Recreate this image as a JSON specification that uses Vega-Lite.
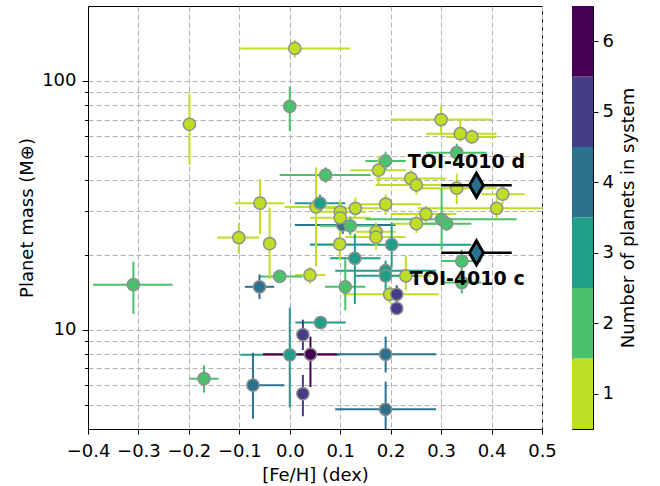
{
  "$schema": "https://vega.github.io/schema/vega-lite/v6.json",
  "autosize": {"type": "pad"},
  "padding": {"left": 18, "top": 5, "right": 4, "bottom": 2},
  "background": "white",
  "bounds": "flush",
  "spacing": 30,
  "datasets": {
    "planets": [
      {"feh": 0.105, "feh_lo": 0.01, "feh_hi": 0.21, "mass": 26.4, "mass_lo": 24.3, "mass_hi": 30, "n": 4},
      {"feh": 0.01, "feh_lo": -0.098, "feh_hi": 0.119, "mass": 135, "mass_lo": 124, "mass_hi": 146, "n": 1},
      {"feh": -0.199, "feh_lo": -0.202, "feh_hi": -0.196, "mass": 67, "mass_lo": 46, "mass_hi": 89, "n": 1},
      {"feh": 0.30, "feh_lo": 0.20, "feh_hi": 0.40, "mass": 70, "mass_lo": 61, "mass_hi": 79, "n": 1},
      {"feh": 0.338, "feh_lo": 0.27, "feh_hi": 0.41, "mass": 61.4, "mass_lo": 57, "mass_hi": 70, "n": 1},
      {"feh": 0.361, "feh_lo": 0.31, "feh_hi": 0.41, "mass": 59.6, "mass_lo": 56, "mass_hi": 64, "n": 1},
      {"feh": 0.176, "feh_lo": 0.12, "feh_hi": 0.23, "mass": 43.8, "mass_lo": 38, "mass_hi": 50, "n": 1},
      {"feh": 0.24, "feh_lo": 0.17, "feh_hi": 0.31, "mass": 40.6, "mass_lo": 37, "mass_hi": 44, "n": 1},
      {"feh": 0.251, "feh_lo": 0.17, "feh_hi": 0.33, "mass": 38.2, "mass_lo": 35, "mass_hi": 41, "n": 1},
      {"feh": 0.331, "feh_lo": 0.26, "feh_hi": 0.41, "mass": 37.1, "mass_lo": 32, "mass_hi": 42.4, "n": 1},
      {"feh": 0.422, "feh_lo": 0.38, "feh_hi": 0.466, "mass": 35.1, "mass_lo": 32, "mass_hi": 38, "n": 1},
      {"feh": 0.41, "feh_lo": 0.254, "feh_hi": 0.566, "mass": 30.8, "mass_lo": 28, "mass_hi": 34, "n": 1},
      {"feh": 0.052, "feh_lo": -0.01, "feh_hi": 0.11, "mass": 31.2, "mass_lo": 18, "mass_hi": 45, "n": 1},
      {"feh": 0.13, "feh_lo": 0.07, "feh_hi": 0.19, "mass": 30.8, "mass_lo": 28, "mass_hi": 34, "n": 1},
      {"feh": 0.19, "feh_lo": 0.13, "feh_hi": 0.26, "mass": 32.0, "mass_lo": 29, "mass_hi": 35, "n": 1},
      {"feh": 0.10, "feh_lo": 0.05, "feh_hi": 0.15, "mass": 29.8, "mass_lo": 27, "mass_hi": 33, "n": 1},
      {"feh": 0.10, "feh_lo": 0.04, "feh_hi": 0.16, "mass": 28.2, "mass_lo": 25, "mass_hi": 31, "n": 1},
      {"feh": 0.171, "feh_lo": 0.13, "feh_hi": 0.21, "mass": 24.8, "mass_lo": 22.5, "mass_hi": 27, "n": 1},
      {"feh": 0.171, "feh_lo": 0.11, "feh_hi": 0.23, "mass": 23.6, "mass_lo": 21, "mass_hi": 26, "n": 1},
      {"feh": 0.27, "feh_lo": 0.20, "feh_hi": 0.33, "mass": 29.2, "mass_lo": 27, "mass_hi": 31.5, "n": 1},
      {"feh": 0.251, "feh_lo": 0.20, "feh_hi": 0.30, "mass": 26.7, "mass_lo": 24.5, "mass_hi": 29, "n": 1},
      {"feh": 0.099, "feh_lo": 0.04, "feh_hi": 0.16, "mass": 22.1, "mass_lo": 19, "mass_hi": 25, "n": 1},
      {"feh": 0.23, "feh_lo": 0.18, "feh_hi": 0.28, "mass": 16.5, "mass_lo": 14.4, "mass_hi": 19.8, "n": 1},
      {"feh": 0.198, "feh_lo": 0.105, "feh_hi": 0.295, "mass": 13.9, "mass_lo": 12.8, "mass_hi": 15, "n": 1},
      {"feh": 0.04, "feh_lo": 0.01, "feh_hi": 0.07, "mass": 16.6, "mass_lo": 15.3, "mass_hi": 17.9, "n": 1},
      {"feh": -0.04, "feh_lo": -0.045, "feh_hi": -0.035, "mass": 22.2, "mass_lo": 16, "mass_hi": 31, "n": 1},
      {"feh": -0.101, "feh_lo": -0.144, "feh_hi": -0.06, "mass": 23.5, "mass_lo": 20.2, "mass_hi": 26.8, "n": 1},
      {"feh": -0.059, "feh_lo": -0.109, "feh_hi": -0.011, "mass": 32.3, "mass_lo": 24.3, "mass_hi": 40.3, "n": 1},
      {"feh": 0.00, "feh_lo": -0.005, "feh_hi": 0.005, "mass": 79, "mass_lo": 63, "mass_hi": 95, "n": 2},
      {"feh": 0.331, "feh_lo": 0.27, "feh_hi": 0.39, "mass": 51.5, "mass_lo": 47, "mass_hi": 56, "n": 2},
      {"feh": 0.19, "feh_lo": 0.15, "feh_hi": 0.23, "mass": 47.7, "mass_lo": 44, "mass_hi": 52, "n": 2},
      {"feh": 0.071, "feh_lo": -0.02, "feh_hi": 0.16, "mass": 41.9, "mass_lo": 39, "mass_hi": 45, "n": 2},
      {"feh": 0.12, "feh_lo": 0.06, "feh_hi": 0.17, "mass": 26.2, "mass_lo": 24, "mass_hi": 28.5, "n": 2},
      {"feh": 0.301, "feh_lo": 0.15, "feh_hi": 0.45, "mass": 27.8, "mass_lo": 21, "mass_hi": 37, "n": 2},
      {"feh": 0.311, "feh_lo": 0.26, "feh_hi": 0.36, "mass": 26.7, "mass_lo": 25, "mass_hi": 28.5, "n": 2},
      {"feh": 0.11, "feh_lo": 0.07, "feh_hi": 0.15, "mass": 14.9, "mass_lo": 12, "mass_hi": 19.2, "n": 2},
      {"feh": -0.02, "feh_lo": -0.06, "feh_hi": 0.025, "mass": 16.4, "mass_lo": 15.5, "mass_hi": 17.3, "n": 2},
      {"feh": -0.31, "feh_lo": -0.39, "feh_hi": -0.232, "mass": 15.2, "mass_lo": 11.6, "mass_hi": 18.8, "n": 2},
      {"feh": -0.17, "feh_lo": -0.199, "feh_hi": -0.141, "mass": 6.37, "mass_lo": 5.6, "mass_hi": 7.2, "n": 2},
      {"feh": 0.341, "feh_lo": 0.30, "feh_hi": 0.38, "mass": 18.9, "mass_lo": 17, "mass_hi": 21, "n": 2},
      {"feh": 0.341, "feh_lo": 0.30, "feh_hi": 0.38, "mass": 15.5, "mass_lo": 14, "mass_hi": 17.5, "n": 2},
      {"feh": 0.06, "feh_lo": 0.01, "feh_hi": 0.11, "mass": 32.3, "mass_lo": 30, "mass_hi": 35, "n": 3},
      {"feh": 0.202, "feh_lo": 0.04, "feh_hi": 0.36, "mass": 22.0, "mass_lo": 17.8, "mass_hi": 27, "n": 3},
      {"feh": 0.129, "feh_lo": 0.08, "feh_hi": 0.18, "mass": 19.4, "mass_lo": 12.7, "mass_hi": 24.3, "n": 3},
      {"feh": 0.19, "feh_lo": 0.09, "feh_hi": 0.29, "mass": 17.3, "mass_lo": 15.5, "mass_hi": 19, "n": 3},
      {"feh": 0.19, "feh_lo": 0.13, "feh_hi": 0.25, "mass": 16.5, "mass_lo": 14.5, "mass_hi": 18.5, "n": 3},
      {"feh": 0.0, "feh_lo": -0.098, "feh_hi": 0.099, "mass": 7.94, "mass_lo": 4.88, "mass_hi": 12.3, "n": 3},
      {"feh": 0.061, "feh_lo": 0.011, "feh_hi": 0.111, "mass": 10.7, "mass_lo": 10.2, "mass_hi": 11.2, "n": 3},
      {"feh": -0.06, "feh_lo": -0.089, "feh_hi": -0.031, "mass": 14.9, "mass_lo": 13.3, "mass_hi": 16.7, "n": 4},
      {"feh": -0.073, "feh_lo": -0.073, "feh_hi": -0.011, "mass": 6.0, "mass_lo": 4.4, "mass_hi": 8.1, "n": 4},
      {"feh": 0.19, "feh_lo": 0.089, "feh_hi": 0.29, "mass": 7.98, "mass_lo": 6.75, "mass_hi": 9.4, "n": 4},
      {"feh": 0.19, "feh_lo": 0.09, "feh_hi": 0.29, "mass": 4.8, "mass_lo": 3.9, "mass_hi": 6.2, "n": 4},
      {"feh": 0.212, "feh_lo": 0.20, "feh_hi": 0.224, "mass": 13.9, "mass_lo": 12.8, "mass_hi": 15.1, "n": 5},
      {"feh": 0.212, "feh_lo": 0.20, "feh_hi": 0.224, "mass": 12.2, "mass_lo": 11.5, "mass_hi": 13, "n": 5},
      {"feh": 0.026, "feh_lo": 0.02, "feh_hi": 0.032, "mass": 9.57, "mass_lo": 8.3, "mass_hi": 11.0, "n": 5},
      {"feh": 0.026, "feh_lo": 0.02, "feh_hi": 0.032, "mass": 5.55, "mass_lo": 4.5, "mass_hi": 6.6, "n": 5},
      {"feh": 0.041, "feh_lo": -0.053, "feh_hi": 0.093, "mass": 7.98, "mass_lo": 5.9, "mass_hi": 9.4, "n": 6}
    ],
    "toi": [
      {"name": "TOI-4010 d", "feh": 0.37, "feh_lo": 0.30, "feh_hi": 0.44, "mass": 38.1, "n": 4},
      {"name": "TOI-4010 c", "feh": 0.37, "feh_lo": 0.30, "feh_hi": 0.44, "mass": 20.4, "n": 4}
    ],
    "labels": [
      {"label": "TOI-4010 d", "feh": 0.234, "mass": 47.3},
      {"label": "TOI-4010 c", "feh": 0.238, "mass": 16.0}
    ],
    "bins": [
      {"n": 1, "lo": 0.5, "hi": 1.5},
      {"n": 2, "lo": 1.5, "hi": 2.5},
      {"n": 3, "lo": 2.5, "hi": 3.5},
      {"n": 4, "lo": 3.5, "hi": 4.5},
      {"n": 5, "lo": 4.5, "hi": 5.5},
      {"n": 6, "lo": 5.5, "hi": 6.5}
    ]
  },
  "hconcat": [
    {
      "width": 454,
      "height": 423,
      "encoding": {
        "x": {
          "field": "feh", "type": "quantitative",
          "scale": {"domain": [-0.4, 0.5], "nice": false, "zero": false},
          "axis": {
            "values": [-0.4, -0.3, -0.2, -0.1, 0, 0.1, 0.2, 0.3, 0.4, 0.5],
            "format": ".1f", "title": "[Fe/H] (dex)", "grid": true,
            "tickSize": 5, "labelPadding": 8, "titlePadding": 6
          }
        },
        "y": {
          "field": "mass", "type": "quantitative",
          "scale": {"type": "log", "domain": [4, 200], "nice": false},
          "axis": {
            "values": [5, 6, 7, 8, 9, 10, 20, 30, 40, 50, 60, 70, 80, 90, 100],
            "labelExpr": "datum.value === 10 || datum.value === 100 ? datum.label : ''",
            "title": "Planet mass (M⊕)", "grid": true,
            "tickSize": {"condition": {"test": "datum.value === 10 || datum.value === 100", "value": 6}, "value": 3.5},
            "labelPadding": 6, "titlePadding": 5
          }
        }
      },
      "layer": [
        {
          "data": {"name": "planets"},
          "mark": {"type": "rule", "strokeWidth": 2, "clip": true},
          "encoding": {
            "x": {"field": "feh_lo", "type": "quantitative"},
            "x2": {"field": "feh_hi"},
            "color": {"field": "n", "type": "ordinal", "scale": {"domain": [1, 2, 3, 4, 5, 6], "range": ["#bddf26", "#4ac16d", "#1f9e89", "#2c728e", "#433e85", "#440154"]}, "legend": null}
          }
        },
        {
          "data": {"name": "planets"},
          "mark": {"type": "rule", "strokeWidth": 2, "clip": true},
          "encoding": {
            "y": {"field": "mass_lo", "type": "quantitative"},
            "y2": {"field": "mass_hi"},
            "color": {"field": "n", "type": "ordinal", "legend": null}
          }
        },
        {
          "data": {"name": "planets"},
          "mark": {"type": "point", "shape": "circle", "filled": true, "opacity": 1, "size": 150, "stroke": "#8f8f8f", "strokeWidth": 1.5},
          "encoding": {
            "color": {"field": "n", "type": "ordinal", "legend": null}
          }
        },
        {
          "data": {"name": "toi"},
          "mark": {"type": "rule", "strokeWidth": 2.5, "color": "black", "clip": true},
          "encoding": {
            "x": {"field": "feh_lo", "type": "quantitative"},
            "x2": {"field": "feh_hi"}
          }
        },
        {
          "data": {"name": "toi"},
          "mark": {"type": "point", "shape": "M0,-1L0.58,0L0,1L-0.58,0Z", "filled": true, "opacity": 1, "size": 576, "stroke": "black", "strokeWidth": 3},
          "encoding": {
            "color": {"field": "n", "type": "ordinal", "legend": null}
          }
        },
        {
          "data": {"name": "labels"},
          "mark": {"type": "text", "font": "DejaVu Sans", "fontSize": 19, "fontWeight": "bold", "align": "left", "baseline": "middle", "color": "black"},
          "encoding": {
            "text": {"field": "label"}
          }
        }
      ]
    },
    {
      "width": 21,
      "height": 423,
      "data": {"name": "bins"},
      "mark": {"type": "rect"},
      "encoding": {
        "y": {
          "field": "lo", "type": "quantitative",
          "scale": {"domain": [0.5, 6.5], "nice": false, "zero": false},
          "axis": {
            "orient": "right", "values": [1, 2, 3, 4, 5, 6], "format": "d",
            "title": "Number of planets in system", "grid": false, "domain": false,
            "tickSize": 5, "labelPadding": 4, "titlePadding": 6, "titleAngle": 270, "titleBaseline": "top"
          }
        },
        "y2": {"field": "hi"},
        "color": {
          "field": "n", "type": "ordinal",
          "scale": {"domain": [1, 2, 3, 4, 5, 6], "range": ["#bddf26", "#4ac16d", "#1f9e89", "#2c728e", "#433e85", "#440154"]},
          "legend": null
        }
      }
    }
  ],
  "config": {
    "font": "DejaVu Sans",
    "view": {"stroke": "black", "strokeWidth": 1},
    "axis": {
      "labelFont": "DejaVu Sans", "titleFont": "DejaVu Sans",
      "labelFontSize": 18, "titleFontSize": 18, "titleFontWeight": "normal",
      "labelColor": "black", "titleColor": "black",
      "tickColor": "black", "domainColor": "black", "domainWidth": 1, "tickWidth": 1,
      "gridColor": "#b0b0b0", "gridDash": [5, 3], "gridWidth": 1,
      "labelFlush": false, "labelOverlap": false
    }
  }
}
